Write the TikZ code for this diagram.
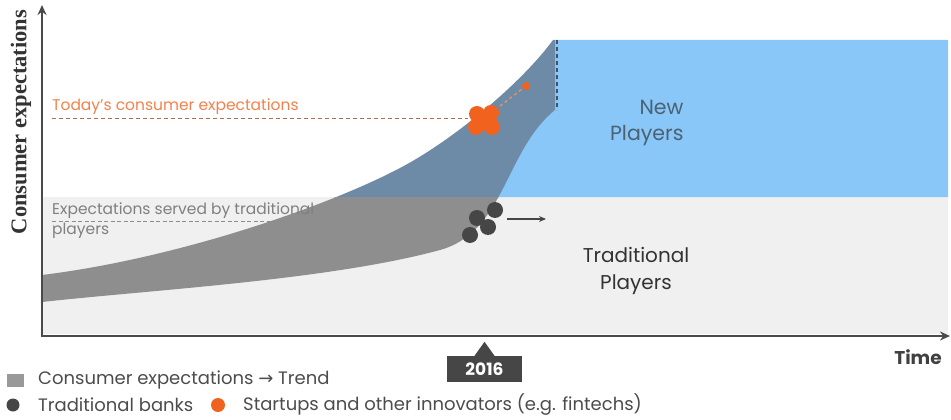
\documentclass[tikz,border=0pt]{standalone}
\usepackage{fontspec}
\setmainfont{Poppins}
\newfontfamily\axisfont{Liberation Serif}
\newfontfamily\symbolfont{DejaVu Sans}
\usetikzlibrary{arrows.meta,calc}

\definecolor{oldgray}{HTML}{F0F0F0}
\definecolor{newblue}{HTML}{88C7F7}
\definecolor{slate}{HTML}{6D8BA6}
\definecolor{bandgray}{HTML}{8E8E8E}
\definecolor{startup}{HTML}{F0621E}
\definecolor{bank}{HTML}{464646}
\definecolor{axisgray}{HTML}{4A4A4A}

\begin{document}
\begin{tikzpicture}[x=1pt,y=-1pt,
    axisline/.style={line width=2.8pt, draw=axisgray, -{Stealth[length=10pt,width=9pt]}},
    legendtext/.style={anchor=west, inner sep=0pt, text=black!70, font=\fontsize{18}{20}\selectfont},
    note/.style={anchor=south west, inner sep=0pt, align=left, font=\fontsize{15.5}{19.5}\selectfont}]
    %%%%% START %%%%%

    \useasboundingbox (0,0) rectangle (951,420);

    % areas of the two kinds of players
    \fill[oldgray] (42,197) rectangle (948,334);
    \fill[newblue] (555,40) -- (948,40) -- (948,197) -- (495,197) -- (495,150) -- (555,110) -- cycle;

    % consumer expectations band, blue above the traditional line, gray below
    \def\trend{(42,275) .. controls (180,258) and (330,205) .. (400,168)
        .. controls (450,142) and (520,85) .. (553,40) -- (555,40) -- (555,110)
        .. controls (505,150) and (505,232) .. (440,250)
        .. controls (330,280) and (150,290) .. (42,302) -- cycle}
    \begin{scope}
        \clip (0,0) rectangle (951,197);
        \fill[slate] \trend;
    \end{scope}
    \begin{scope}
        \clip (0,197) rectangle (951,334);
        \fill[bandgray] \trend;
    \end{scope}
    \draw[dashed, line width=1.2pt, draw=slate!60!black, dash pattern=on 4pt off 3pt] (557,40) -- (557,110);

    % axes
    \coordinate (origin) at (42,336);
    \coordinate (ytip) at (42,5);
    \coordinate (xtip) at (950,336);
    \draw[axisline] (origin) -- (ytip);
    \draw[axisline] ($(origin)+(-1.4,0)$) -- (xtip);
    \node[rotate=90, font=\axisfont\bfseries\fontsize{22.5}{24}\selectfont, text=black!80] (ylabel) at (21,122) {Consumer expectations};
    \node[font=\fontsize{18.5}{20}\selectfont\bfseries, text=black!75] (xlabel) at (918,357) {Time};

    % today's expectations and the startups
    \node[note, text=startup!80!white] (today) at (52,115) {Today's consumer expectations};
    \begin{scope}[fill=startup]
        \fill (477,114) circle (8);
        \fill (491,113) circle (8);
        \fill (476,127) circle (8);
        \fill (492,127) circle (8);
        \fill (484,121) circle (9);
    \end{scope}
    \node[circle, fill=startup, inner sep=0pt, minimum size=8pt] (ahead) at (526,86) {};
    \coordinate (startups) at (468,118);
    \draw[dashed, line width=1pt, draw=startup!70!black!80, dash pattern=on 4pt off 3pt] (today.south west) ++(0,3) -- (startups);
    \draw[dashed, line width=1.2pt, draw=startup!70, dash pattern=on 3pt off 3pt] (500,106) -- (ahead);

    % expectations met by the banks
    \node[note, text=black!50, anchor=north west] (served) at (52,203) {Expectations served by traditional\\players};
    \draw[dashed, line width=0.8pt, draw=black!45, dash pattern=on 4pt off 2.5pt] (52,221) -- (320,221);
    \begin{scope}[fill=bank]
        \fill (495,210) circle (8);
        \fill (477,218) circle (8);
        \fill (488,227) circle (8);
        \fill (470,235) circle (8);
    \end{scope}
    \coordinate (banks) at (507,219);
    \coordinate (bankstep) at (546,219);
    \draw[line width=1.3pt, draw=bank, -{Stealth[length=7pt,width=6pt]}] (banks) -- (bankstep);

    % labels of the two areas
    \node[anchor=east, align=right, text=slate!70!black, font=\fontsize{20.5}{26}\selectfont] (newplayers) at (687,123) {New\\Players};
    \node[align=center, text=black!80, font=\fontsize{20}{27}\selectfont] (oldplayers) at (636,271) {Traditional\\Players};

    % year marker
    \node[fill=bank, text=white, minimum width=75pt, minimum height=26pt, inner sep=0pt, font=\fontsize{17}{18}\selectfont\bfseries] (year) at (484.5,369) {2016};
    \fill[bank] ($(year.north)+(-10,0)$) -- ($(year.north)+(0,-14)$) -- ($(year.north)+(10,0)$) -- cycle;

    % legend
    \fill[black!40] (7,374) rectangle (24,387);
    \node[legendtext] (trendkey) at (38,380) {Consumer expectations {\symbolfont→} Trend};
    \fill[bank] (13,405) circle (6.5);
    \node[legendtext] (bankkey) at (38,405) {Traditional banks};
    \fill[startup] (218,405) circle (7);
    \node[legendtext] (startupkey) at (243,405) {Startups and other innovators (e.g. fintechs)};

    %%%%% END %%%%%
\end{tikzpicture}
\end{document}
